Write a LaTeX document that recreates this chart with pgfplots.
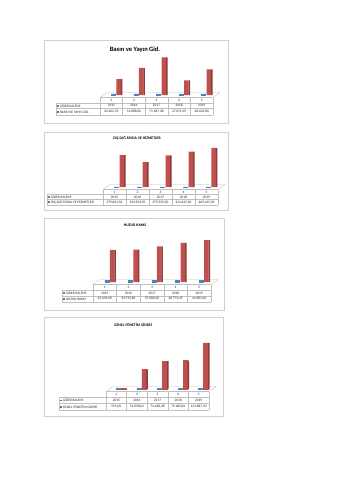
\documentclass[border=0pt]{standalone}
\usepackage{fontspec}
\setmainfont{Carlito}
\usepackage{pgfplots}
\pgfplotsset{compat=1.18}
\definecolor{redf}{HTML}{C0504D}
\definecolor{reds}{HTML}{8E3B39}
\definecolor{bluef}{HTML}{4F81BD}
\definecolor{gridc}{HTML}{BFBFBF}
\definecolor{framec}{HTML}{D0D0D0}
\tikzset{tabtxt/.style={font=\fontsize{3.5}{3.8}\selectfont, inner sep=0pt, text=black!85}}
\pgfplotsset{barchart/.style={scale only axis, hide axis, clip=false, xmin=0.5, xmax=5.5, ymin=0, anchor=south west}}
\newcommand{\datatable}[9]{%
 \draw[gridc, line width=0.3pt] (#2,#4) -- (#3,#4) (#1,#5) -- (#3,#5) (#1,#6) -- (#3,#6) (#1,#7) -- (#3,#7) (#1,#5) -- (#1,#7);
 \foreach \k in {0,...,5}{\pgfmathsetmacro\xx{#2+\k*(#3-#2)/5}\draw[gridc, line width=0.3pt] (\xx,#4) -- (\xx,#7);}
 \foreach \v [count=\k] in {#9}{%
   \pgfmathsetmacro\xx{#2+(\k-0.5)*(#3-#2)/5}%
   \pgfmathtruncatemacro\yr{2014+\k}%
   \node[tabtxt] at (\xx,{(#4+#5)/2}) {\k};
   \node[tabtxt] at (\xx,{(#5+#6)/2}) {\yr};
   \node[tabtxt] at (\xx,{(#6+#7)/2}) {\v};}
 \fill[bluef] (#1+1.2,{(#5+#6)/2-0.9}) rectangle ++(1.8,1.8);
 \fill[redf] (#1+1.2,{(#6+#7)/2-0.9}) rectangle ++(1.8,1.8);
 \node[tabtxt, anchor=west] at (#1+3.8,{(#5+#6)/2}) {GİDER KALEMİ};
 \node[tabtxt, anchor=west] at (#1+3.8,{(#6+#7)/2}) {#8};
}
\newcommand{\floor}[3]{\draw[gridc, fill=white, line width=0.3pt] (#1,#3) -- (#2,#3) -- (#2+7,#3-5) -- (#1+7,#3-5) -- cycle;}
\begin{document}
\begin{tikzpicture}
\begin{scope}[x=1pt,y=-1pt]
\fill[white] (0,0) rectangle (339,480);
\path[use as bounding box] (0,0) rectangle (339,480);
% frames
\draw[framec, line width=0.4pt] (44,40) rectangle (228,123);
\draw[framec, line width=0.4pt] (44,132) rectangle (228,210);
\draw[framec, line width=0.4pt] (44,218) rectangle (224,310);
\draw[framec, line width=0.4pt] (44,317) rectangle (223,416);
% titles
\node[font=\fontsize{6.5}{7}\selectfont\bfseries, inner sep=0pt] at (135,50) {Basın ve Yayın Gid.};
\node[font=\fontsize{3.8}{4}\selectfont\bfseries, inner sep=0pt] at (137,138) {DIŞ.SAĞ.FAYDA VE HİZMETLER};
\node[font=\fontsize{3.8}{4}\selectfont\bfseries, inner sep=0pt] at (135,225) {HUZUR HAKKI};
\node[font=\fontsize{3.8}{4}\selectfont\bfseries, inner sep=0pt] at (133,325) {GENEL YÖNETİM GİDERİ};
% floors
\floor{100}{213}{97.5}
\floor{103}{218}{189.5}
\floor{93}{211}{284.5}
\floor{106}{209}{391.5}
\end{scope}

% Chart 1
\begin{axis}[barchart, at={(100pt,-95pt)}, width=113pt, height=42pt, ymax=80000]
\addplot[ybar, bar width=4pt, bar shift=2pt, fill=bluef, draw=bluef, line width=0.6pt] coordinates {(1,2015) (2,2016) (3,2017) (4,2018) (5,2019)};
\addplot[ybar, bar width=4.5pt, bar shift=7.25pt, fill=redf, draw=none] coordinates {(1,30402.76) (2,51888.60) (3,71687.08) (4,27671.09) (5,48603.80)};
\addplot[ybar, bar width=1.5pt, bar shift=10.25pt, fill=reds, draw=none] coordinates {(1,30402.76) (2,51888.60) (3,71687.08) (4,27671.09) (5,48603.80)};
\end{axis}
% Chart 2
\begin{axis}[barchart, at={(103pt,-187pt)}, width=115pt, height=42pt, ymax=500000]
\addplot[ybar, bar width=4pt, bar shift=2pt, fill=bluef, draw=bluef, line width=0.6pt] coordinates {(1,2015) (2,2016) (3,2017) (4,2018) (5,2019)};
\addplot[ybar, bar width=4.5pt, bar shift=7.25pt, fill=redf, draw=none] coordinates {(1,379861.50) (2,294903.50) (3,375905.00) (4,421647.00) (5,465465.30)};
\addplot[ybar, bar width=1.5pt, bar shift=10.25pt, fill=reds, draw=none] coordinates {(1,379861.50) (2,294903.50) (3,375905.00) (4,421647.00) (5,465465.30)};
\end{axis}
% Chart 3
\begin{axis}[barchart, at={(93pt,-282pt)}, width=118pt, height=48pt, ymax=50000]
\addplot[ybar, bar width=4pt, bar shift=2pt, fill=bluef, draw=bluef, line width=0.6pt] coordinates {(1,2015) (2,2016) (3,2017) (4,2018) (5,2019)};
\addplot[ybar, bar width=4.5pt, bar shift=7.25pt, fill=redf, draw=none] coordinates {(1,33456.00) (2,33792.80) (3,37080.00) (4,40773.45) (5,43681.60)};
\addplot[ybar, bar width=1.5pt, bar shift=10.25pt, fill=reds, draw=none] coordinates {(1,33456.00) (2,33792.80) (3,37080.00) (4,40773.45) (5,43681.60)};
\end{axis}
% Chart 4
\begin{axis}[barchart, at={(106pt,-389pt)}, width=103pt, height=53pt, ymax=140000]
\addplot[ybar, bar width=4pt, bar shift=2pt, fill=bluef, draw=bluef, line width=0.6pt] coordinates {(1,2015) (2,2016) (3,2017) (4,2018) (5,2019)};
\addplot[ybar, bar width=4.5pt, bar shift=7.25pt, fill=redf, draw=redf, line width=0.6pt] coordinates {(1,595.00) (2,51858.02) (3,73428.08) (4,75180.84) (5,121887.90)};
\addplot[ybar, bar width=1.5pt, bar shift=10.25pt, fill=reds, draw=none] coordinates {(1,595.00) (2,51858.02) (3,73428.08) (4,75180.84) (5,121887.90)};
\end{axis}

\begin{scope}[x=1pt,y=-1pt]
\datatable{56}{100}{213}{97.5}{103}{108.5}{115}{BASIN VE YAYIN GİD.}{{30.402,76},{51.888,60},{71.687,08},{27.671,09},{48.603,80}}
\datatable{47}{103}{218}{189.5}{194.5}{199.5}{205}{DIŞ.SAĞ.FAYDA VE HİZMETLER}{{379.861,50},{294.903,50},{375.905,00},{421.647,00},{465.465,30}}
\datatable{62}{93}{211}{284.5}{290}{296}{302}{HUZUR HAKKI}{{33.456,00},{33.792,80},{37.080,00},{40.773,45},{43.681,60}}
\datatable{59}{106}{209}{391.5}{397.5}{403.5}{410}{GENEL YÖNETİM GİDERİ}{{595,00},{51.858,02},{73.428,08},{75.180,84},{121.887,90}}
\end{scope}
\end{tikzpicture}
\end{document}
